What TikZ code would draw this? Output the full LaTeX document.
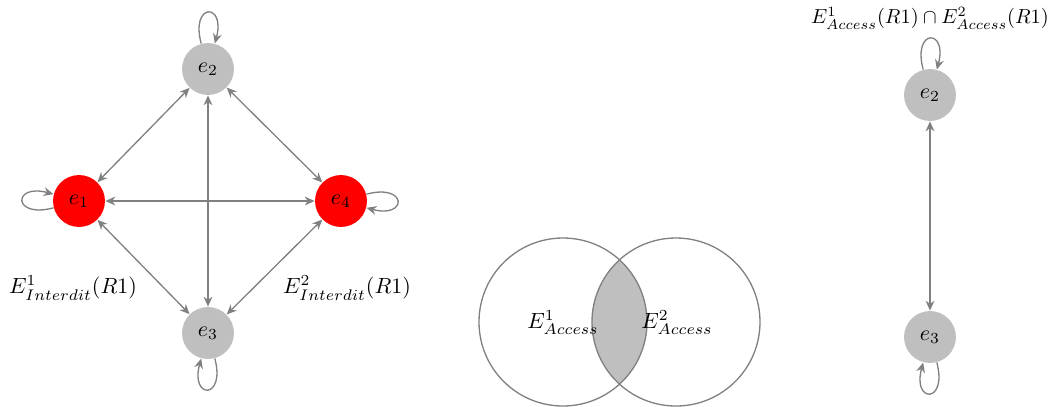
\documentclass[tikz,border=0pt]{standalone}
\usetikzlibrary{arrows.meta}
\begin{document}
\begin{tikzpicture}[x=0.4545pt,y=-0.4545pt,
  st/.style={circle,minimum size=23.6pt,inner sep=0pt,draw=none},
  gst/.style={st,fill=gray!50},
  rst/.style={st,fill=red},
  con/.style={draw=gray,line width=0.6pt,{Stealth[length=4.5pt,width=4pt]}-{Stealth[length=4.5pt,width=4pt]}},
  lp/.style={draw=gray,line width=0.6pt,-{Stealth[length=4.5pt,width=4pt]},looseness=9}]
\useasboundingbox (0,0) rectangle (1052,406);
% left graph
\node[gst] (a2) at (208,69) {$e_2$};
\node[rst] (a1) at (79,201) {$e_1$};
\node[rst] (a4) at (341,201) {$e_4$};
\node[gst] (a3) at (208,333) {$e_3$};
\draw[con] (a2) -- (a1);
\draw[con] (a2) -- (a4);
\draw[con] (a2) -- (a3);
\draw[con] (a1) -- (a4);
\draw[con] (a1) -- (a3);
\draw[con] (a4) -- (a3);
\draw[lp] (a2) to[loop above] (a2);
\draw[lp] (a1) to[loop left] (a1);
\draw[lp] (a4) to[loop right] (a4);
\draw[lp] (a3) to[loop below] (a3);
\node (l1) at (73,288) {$E^1_{Interdit}(R1)$};
\node (l2) at (347,288) {$E^2_{Interdit}(R1)$};
% venn
\begin{scope}
\clip (563,322) circle (84);
\fill[gray!50] (676,322) circle (84);
\end{scope}
\draw[gray,line width=0.6pt] (563,322) circle (84);
\draw[gray,line width=0.6pt] (676,322) circle (84);
\node (v1) at (563,323) {$E^1_{Access}$};
\node (v2) at (677,323) {$E^2_{Access}$};
% right graph
\node[gst] (b2) at (930,95) {$e_2$};
\node[gst] (b3) at (930,337) {$e_3$};
\draw[con] (b2) -- (b3);
\draw[lp] (b2) to[loop above] (b2);
\draw[lp] (b3) to[loop below] (b3);
\node[scale=0.925] (t) at (930,18) {$E^1_{Access}(R1)\cap E^2_{Access}(R1)$};
\end{tikzpicture}
\end{document}
